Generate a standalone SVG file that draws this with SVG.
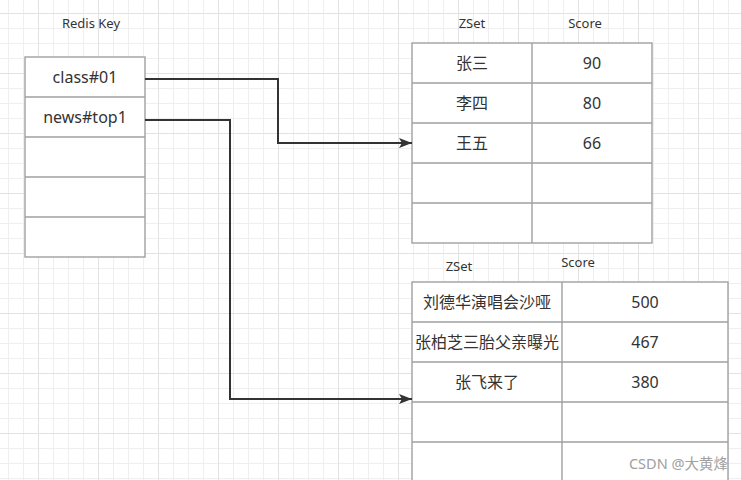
<svg xmlns="http://www.w3.org/2000/svg" width="741" height="480" viewBox="0 0 741 480">
<defs>
<pattern id="grid" x="38" y="13" width="60" height="60" patternUnits="userSpaceOnUse">
<path d="M15.5 0V60M30.5 0V60M45.5 0V60M0 15.5H60M0 30.5H60M0 45.5H60" stroke="#efefef" stroke-width="1" fill="none"/>
<path d="M0.5 0V60M0 0.5H60" stroke="#e2e2e2" stroke-width="1" fill="none"/>
</pattern>
<marker id="arr" markerWidth="14" markerHeight="12" refX="13" refY="6" orient="auto" markerUnits="userSpaceOnUse">
<path d="M0 1L13 6L0 11L3 6Z" fill="#333"/>
</marker>
<style>
.cell{fill:#fff;stroke:#a0a0a0;stroke-width:1.4}
.sep{stroke:#a0a0a0;stroke-width:1.4;fill:none}
.t{font-family:"Noto Sans","Noto Sans CJK SC",sans-serif;font-size:16px;fill:#333;text-anchor:middle}
.h{font-family:"Noto Sans","Noto Sans CJK SC",sans-serif;font-size:13px;fill:#333;text-anchor:middle}
.conn{stroke:#333;stroke-width:2;fill:none}
</style>
</defs>
<rect width="741" height="480" fill="#fff"/>
<rect width="741" height="480" fill="url(#grid)"/>

<g id="redis-key">
<text class="h" x="91" y="28">Redis Key</text>
<rect class="cell" x="25" y="57" width="120" height="200"/>
<path class="sep" d="M25 97H145M25 137H145M25 177H145M25 217H145"/>
<text class="t" x="85" y="83">class#01</text>
<text class="t" x="85" y="123">news#top1</text>
</g>

<g id="zset-class">
<text class="h" x="472" y="28">ZSet</text>
<text class="h" x="585" y="28">Score</text>
<rect class="cell" x="412" y="43" width="240" height="200"/>
<path class="sep" d="M532 43V243M412 83H652M412 123H652M412 163H652M412 203H652"/>
<text class="t" x="472" y="69">张三</text>
<text class="t" x="592" y="69">90</text>
<text class="t" x="472" y="109">李四</text>
<text class="t" x="592" y="109">80</text>
<text class="t" x="472" y="149">王五</text>
<text class="t" x="592" y="149">66</text>
</g>

<g id="zset-news">
<text class="h" x="459" y="271">ZSet</text>
<text class="h" x="578" y="267">Score</text>
<rect class="cell" x="412" y="282" width="316" height="210"/>
<path class="sep" d="M562 282V492M412 322H728M412 362H728M412 402H728M412 442H728"/>
<text class="t" x="487" y="308">刘德华演唱会沙哑</text>
<text class="t" x="645" y="308">500</text>
<text class="t" x="487" y="348">张柏芝三胎父亲曝光</text>
<text class="t" x="645" y="348">467</text>
<text class="t" x="487" y="388">张飞来了</text>
<text class="t" x="645" y="388">380</text>
</g>

<g id="connectors">
<path class="conn" d="M145 79H278V143H412" marker-end="url(#arr)"/>
<path class="conn" d="M145 120H230V399H412" marker-end="url(#arr)"/>
</g>

<text x="728" y="469" font-family="Noto Sans,Noto Sans CJK SC,sans-serif" font-size="14.5" fill="#a0a0a0" text-anchor="end">CSDN @大黄烽</text>
</svg>
